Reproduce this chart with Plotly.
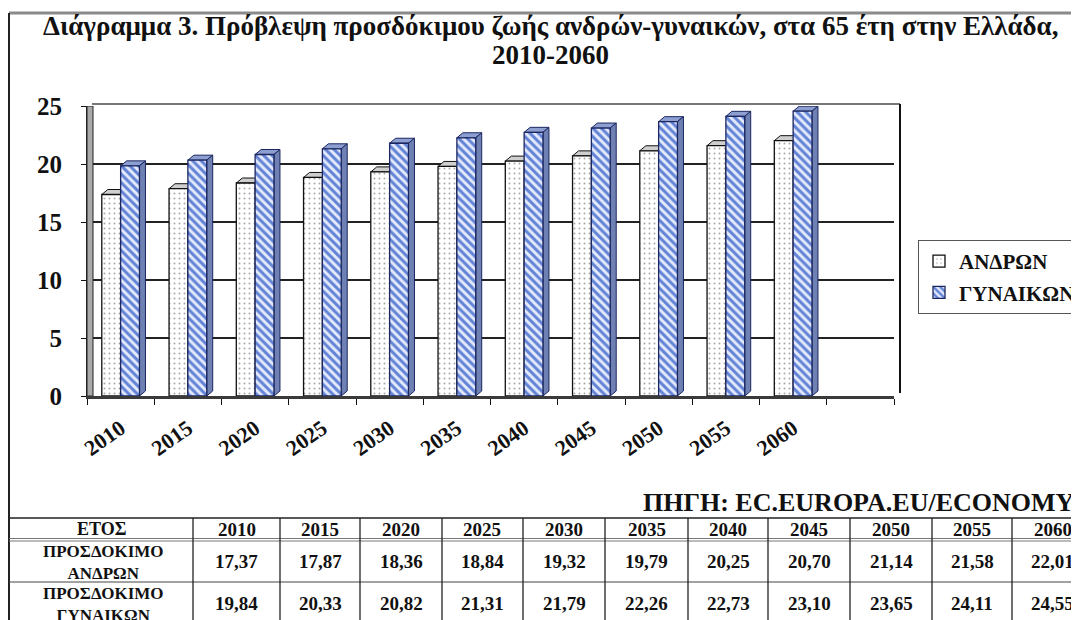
import plotly.graph_objects as go

# ---------------- data ----------------
years = ["2010", "2015", "2020", "2025", "2030", "2035", "2040", "2045", "2050", "2055", "2060"]
men = [17.37, 17.87, 18.36, 18.84, 19.32, 19.79, 20.25, 20.70, 21.14, 21.58, 22.01]
women = [19.84, 20.33, 20.82, 21.31, 21.79, 22.26, 22.73, 23.10, 23.65, 24.11, 24.55]
men_name = "ΑΝΔΡΩΝ"
women_name = "ΓΥΝΑΙΚΩΝ"
y_ticks = [0, 5, 10, 15, 20, 25]
title_line1 = "Διάγραμμα 3. Πρόβλεψη προσδόκιμου ζωής ανδρών-γυναικών, στα 65 έτη στην Ελλάδα,"
title_line2 = "2010-2060"
source_text = "ΠΗΓΗ: EC.EUROPA.EU/ECONOMY"
table_corner = "ΕΤΟΣ"
row_labels = ["ΠΡΟΣΔΟΚΙΜΟ<br>ΑΝΔΡΩΝ", "ΠΡΟΣΔΟΚΙΜΟ<br>ΓΥΝΑΙΚΩΝ"]

# ---------------- geometry helpers ----------------
W, H = 1079, 620
OFF = 8            # the page body margin shifts the figure by this many pixels
FONT = "Liberation Serif"


def px(x):
    return (x - OFF) / W


def py(y):
    return 1 - (y - OFF) / H


X_LEFT, X_RIGHT = 87, 894
Y_TOP, Y_BOT = 106, 396
n_slots = len(years) + 1          # one empty slot after 2060, as in the original
slot_px = (X_RIGHT - X_LEFT) / n_slots
unit_px = (Y_BOT - Y_TOP) / 25.0
DX = 6 / slot_px                   # 3-D depth in x units
DY = 5 / unit_px                   # 3-D depth in y units
GAP = 0.44
BW = (1 - GAP) / 2

x_idx = list(range(len(years)))

fig = go.Figure()
fig.add_trace(go.Bar(
    x=x_idx, y=men, name=f"<b>{men_name}</b>", width=BW, offset=-BW,
    marker=dict(color="white", line=dict(color="#111111", width=1.3),
                pattern=dict(shape=".", fgcolor="#a8a8a8", bgcolor="white",
                             size=5, solidity=0.12, fillmode="replace")),
    legendgroup="m",
))
fig.add_trace(go.Bar(
    x=x_idx, y=women, name=f"<b>{women_name}</b>", width=BW, offset=0,
    marker=dict(color="#c9d5f5", line=dict(color="#1b2660", width=1.3),
                pattern=dict(shape="\\", fgcolor="#6383d6", bgcolor="#e4eafb",
                             size=6, solidity=0.5, fillmode="replace")),
    legendgroup="w",
))

shapes = []
# left wall of the 3-D box
shapes.append(dict(type="rect", xref="x", yref="y", x0=-0.5, x1=-0.5 + DX, y0=0, y1=25,
                   fillcolor="#a9a9a9", line=dict(color="#222222", width=1), layer="between"))
# 3-D top / side faces computed from the data
for i in x_idx:
    m, w = men[i], women[i]
    x0, x1 = i - BW, i
    shapes.append(dict(type="path", xref="x", yref="y", layer="between",
                       path=f"M {x0},{m} L {x1},{m} L {x1 + DX},{m + DY} L {x0 + DX},{m + DY} Z",
                       fillcolor="#cfcfcf", line=dict(color="#111111", width=1)))
    x0, x1 = i, i + BW
    shapes.append(dict(type="path", xref="x", yref="y", layer="between",
                       path=f"M {x0},{w} L {x1},{w} L {x1 + DX},{w + DY} L {x0 + DX},{w + DY} Z",
                       fillcolor="#8d9ed0", line=dict(color="#1b2660", width=1)))
    shapes.append(dict(type="path", xref="x", yref="y", layer="between",
                       path=f"M {x1},0 L {x1},{w} L {x1 + DX},{w + DY} L {x1 + DX},{DY} Z",
                       fillcolor="#6f80b3", line=dict(color="#1b2660", width=1)))

# plot frame: top line and right edge
shapes.append(dict(type="line", xref="paper", yref="paper", x0=px(X_LEFT + 5), x1=px(X_RIGHT + 6),
                   y0=py(Y_TOP - 2), y1=py(Y_TOP - 2), line=dict(color="#777777", width=2)))
shapes.append(dict(type="line", xref="paper", yref="paper", x0=px(X_RIGHT + 6), x1=px(X_RIGHT + 6),
                   y0=py(Y_TOP - 2), y1=py(Y_BOT - 3), line=dict(color="#111111", width=2)))

# outer frame of the figure
shapes.append(dict(type="line", xref="paper", yref="paper", x0=px(9), x1=1,
                   y0=py(13), y1=py(13), line=dict(color="#8a8a8a", width=3)))
shapes.append(dict(type="line", xref="paper", yref="paper", x0=px(9), x1=px(9),
                   y0=py(13), y1=0, line=dict(color="#222222", width=2)))

# ---------------- table ----------------
col_edges = [9, 193, 280, 360, 442, 523, 605, 688, 768, 850, 932, 1012, 1093]
T_TOP, T_HDR, T_ROW = 518, 540, 582
row_centers = [529, 561, 603]

shapes.append(dict(type="line", xref="paper", yref="paper", x0=px(9), x1=1,
                   y0=py(T_TOP), y1=py(T_TOP), line=dict(color="#222222", width=1.5)))
shapes.append(dict(type="line", xref="paper", yref="paper", x0=px(9), x1=1,
                   y0=py(T_HDR - 1.5), y1=py(T_HDR - 1.5), line=dict(color="#777777", width=1)))
shapes.append(dict(type="line", xref="paper", yref="paper", x0=px(9), x1=1,
                   y0=py(T_HDR + 1), y1=py(T_HDR + 1), line=dict(color="#777777", width=1)))
shapes.append(dict(type="line", xref="paper", yref="paper", x0=px(9), x1=1,
                   y0=py(T_ROW), y1=py(T_ROW), line=dict(color="#444444", width=1)))
for xe in col_edges[1:-1]:
    shapes.append(dict(type="line", xref="paper", yref="paper", x0=px(xe), x1=px(xe),
                       y0=py(T_TOP), y1=0, line=dict(color="#222222", width=1.3)))

annotations = []


def add_text(text, x, y, size, xanchor="center"):
    annotations.append(dict(text=f"<b>{text}</b>", x=px(x), y=py(y), xref="paper", yref="paper",
                            xanchor=xanchor, yanchor="middle", showarrow=False,
                            font=dict(family=FONT, size=size, color="#111111")))


centers = [(col_edges[k] + col_edges[k + 1]) / 2 for k in range(len(col_edges) - 1)]
add_text(table_corner, centers[0], row_centers[0], 18)
for k, yr in enumerate(years):
    add_text(yr, centers[k + 1], row_centers[0], 19)
for r, (label, vals) in enumerate(zip(row_labels, [men, women])):
    add_text(label, centers[0] + 2, row_centers[r + 1] + 1, 17)
    for k, v in enumerate(vals):
        add_text(f"{v:.2f}".replace(".", ","), centers[k + 1], row_centers[r + 1], 19)

# title and source
add_text(title_line1, 550, 26, 27)
add_text(title_line2, 550, 55, 27)
add_text(source_text, 1077, 502, 26, xanchor="right")

fig.update_layout(
    width=W, height=H,
    margin=dict(l=0, r=0, t=0, b=0, autoexpand=False),
    paper_bgcolor="white", plot_bgcolor="white",
    barmode="overlay",
    showlegend=True,
    legend=dict(x=px(918), y=py(240), xanchor="left", yanchor="top",
                bgcolor="white", bordercolor="#555555", borderwidth=1,
                font=dict(family=FONT, size=21, color="#111111"),
                tracegroupgap=1, itemwidth=30),
    xaxis=dict(domain=[px(X_LEFT), px(X_RIGHT)], range=[-0.5, n_slots - 0.5],
               tickmode="array", tickvals=x_idx, ticktext=[f"<b>{y}</b>" for y in years], ticks="",
               tickangle=-35, showgrid=False, zeroline=False, ticklabelstandoff=8,
               tickfont=dict(family=FONT, size=22, color="#111111"),
               showline=True, linecolor="#3a3a3a", linewidth=3,
               minor=dict(tickmode="array", tickvals=[k - 0.5 for k in range(n_slots + 1)],
                          ticks="outside", ticklen=6, tickcolor="#111111", tickwidth=1)),
    yaxis=dict(domain=[py(Y_BOT), py(Y_TOP)], range=[0, 25],
               tickmode="array", tickvals=y_ticks, ticktext=[f"<b>{v}</b>" for v in y_ticks],
               ticks="outside", ticklen=5,
               tickcolor="#111111", ticklabelstandoff=14,
               showgrid=True, gridcolor="#222222", gridwidth=1.5, zeroline=False,
               showline=True, linecolor="#222222", linewidth=1,
               tickfont=dict(family=FONT, size=25, color="#111111")),
    shapes=shapes,
    annotations=annotations,
)

fig.write_html("out.html")
